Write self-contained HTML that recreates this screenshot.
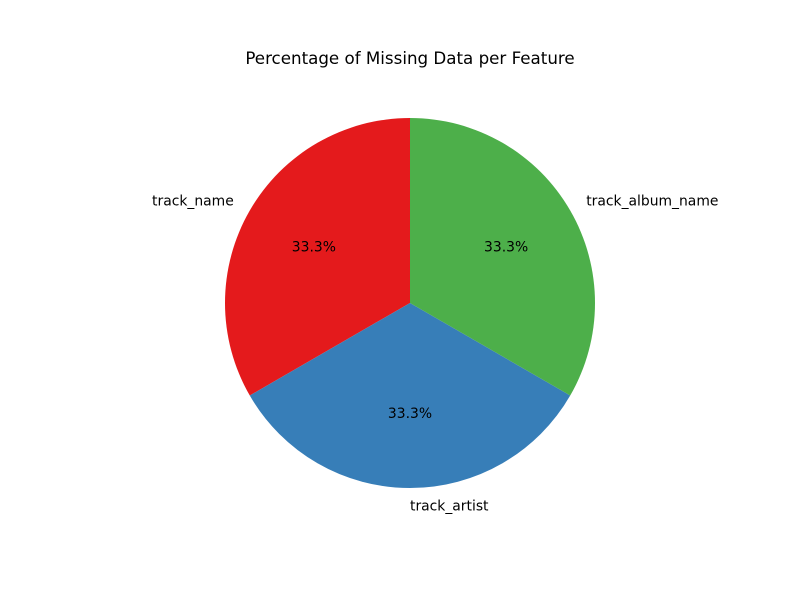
<!DOCTYPE html>
<html>
<head>
<meta charset="utf-8">
<style>
  html, body { margin: 0; padding: 0; background: #fff; }
  svg { display: block; font-family: "DejaVu Sans", "Liberation Sans", sans-serif; }
</style>
</head>
<body>
<svg id="chart" width="800" height="600" viewBox="0 0 800 600">
  <rect width="800" height="600" fill="#ffffff"/>
  <text x="410" y="64" text-anchor="middle" font-size="16.7" fill="#000">Percentage of Missing Data per Feature</text>
</svg>
<script>
const categories = ["track_name", "track_artist", "track_album_name"];
const values = [1, 1, 1];
const colors = ["#e41a1c", "#377eb8", "#4daf4a"];

const svg = document.getElementById('chart');
const NS = 'http://www.w3.org/2000/svg';
const cx = 410, cy = 303, r = 185, startDeg = 90;
const total = values.reduce((a, b) => a + b, 0);
function pt(deg, rad) {
  const a = deg * Math.PI / 180;
  return [cx + rad * Math.cos(a), cy - rad * Math.sin(a)];
}
let ang = startDeg;
values.forEach((v, i) => {
  const sweep = v / total * 360;
  const a0 = ang, a1 = ang + sweep;
  const [x0, y0] = pt(a0, r), [x1, y1] = pt(a1, r);
  const large = sweep > 180 ? 1 : 0;
  const path = document.createElementNS(NS, 'path');
  path.setAttribute('d', `M${cx},${cy} L${x0},${y0} A${r},${r} 0 ${large} 0 ${x1},${y1} Z`);
  path.setAttribute('fill', colors[i]);
  
  
  svg.appendChild(path);

  const mid = (a0 + a1) / 2;
  const [lx, ly] = pt(mid, r * 1.1);
  const lab = document.createElementNS(NS, 'text');
  lab.setAttribute('x', lx);
  lab.setAttribute('y', ly + 4);
  lab.setAttribute('font-size', '13.9');
  const c = Math.cos(mid * Math.PI / 180);
  lab.setAttribute('text-anchor', c < -0.01 ? 'end' : 'start');
  lab.textContent = categories[i];
  
  
  svg.appendChild(lab);

  const [px, py] = pt(mid, r * 0.6);
  const pct = document.createElementNS(NS, 'text');
  pct.setAttribute('x', px);
  pct.setAttribute('y', py + 4);
  pct.setAttribute('font-size', '13.9');
  pct.setAttribute('text-anchor', 'middle');
  pct.textContent = (v / total * 100).toFixed(1) + '%';
  
  
  svg.appendChild(pct);

  ang = a1;
});
</script>
</body>
</html>
